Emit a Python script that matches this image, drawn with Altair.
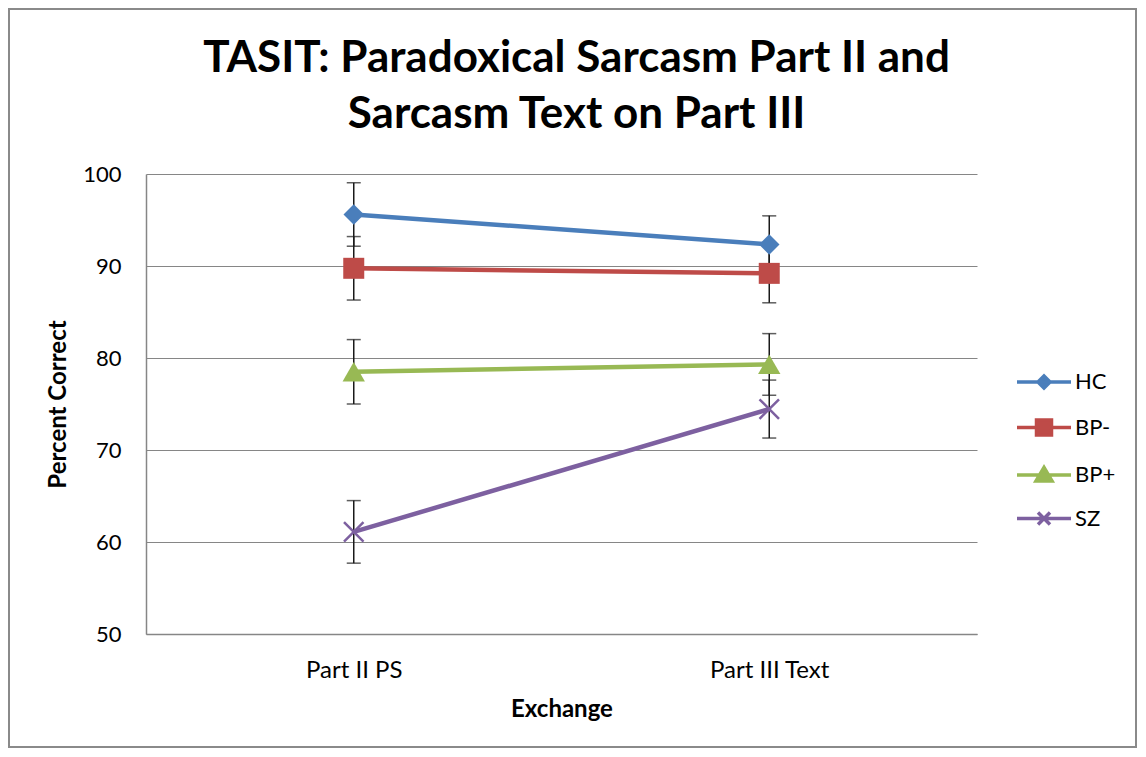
import altair as alt
import pandas as pd

groups = ["HC", "BP-", "BP+", "SZ"]
exchanges = ["Part II PS", "Part III Text"]
hc_mean = [95.6, 92.35]
hc_err = [3.45, 3.1]
bpm_mean = [89.75, 89.2]
bpm_err = [3.45, 3.2]
bpp_mean = [78.5, 79.3]
bpp_err = [3.5, 3.35]
sz_mean = [61.1, 74.45]
sz_err = [3.4, 3.15]
y_ticks = [50, 60, 70, 80, 90, 100]
colors = ["#4A7EBB", "#BE4B48", "#98B954", "#7D60A0"]
title_lines = ["TASIT: Paradoxical Sarcasm Part II and", "Sarcasm Text on Part III"]

means = [hc_mean, bpm_mean, bpp_mean, sz_mean]
errs = [hc_err, bpm_err, bpp_err, sz_err]
rows = []
for g, m, e in zip(groups, means, errs):
    for x, mv, ev in zip(exchanges, m, e):
        rows.append(dict(group=g, exchange=x, value=mv, lo=mv - ev, hi=mv + ev))
df = pd.DataFrame(rows)

FONT = "Lato"
W, H = 831, 460
PL, PT = 138, 166
PR = 1130 - PL - W
PB = 741 - PT - H

xscale = alt.Scale(type="point", padding=0.5, domain=exchanges)
yscale = alt.Scale(domain=[50, 100], nice=False, zero=False)

x_axis = alt.Axis(title="Exchange", labelAngle=0, labelPadding=24, ticks=False, grid=False,
                  domainColor="#868686", domainWidth=1.5, labelFont=FONT, labelFontSize=24,
                  labelColor="#000000", titleFont=FONT, titleFontSize=24, titleFontWeight="bold",
                  titleColor="#000000", titleY=82, titleBaseline="alphabetic")
y_axis = alt.Axis(title="Percent Correct", values=y_ticks, ticks=False, grid=True,
                  gridColor="#868686", gridWidth=1, domainColor="#868686", domainWidth=1.5,
                  labelPadding=25, labelFont=FONT, labelFontSize=22, labelColor="#000000",
                  titleFont=FONT, titleFontSize=24, titleFontWeight="bold", titleColor="#000000",
                  titleAngle=270, titleX=-88, titleY=H / 2, titleAlign="center",
                  titleBaseline="middle")


def X():
    return alt.X("exchange:N", scale=xscale, axis=x_axis)


def Y(field):
    return alt.Y(f"{field}:Q", scale=yscale, axis=y_axis)


base = alt.Chart(df)
one = pd.DataFrame({"a": [0]})

border = alt.Chart(one).mark_rect(
    fillOpacity=0, stroke="#8a8a8a", strokeWidth=2
).encode(x=alt.value(-PL + 1), x2=alt.value(W + PR - 2),
         y=alt.value(-PT + 1), y2=alt.value(H + PB - 2))

title1 = alt.Chart(one).mark_text(
    text=title_lines[0], font=FONT, fontSize=44, fontWeight="bold", color="#000000",
    align="center", baseline="alphabetic"
).encode(x=alt.value(W / 2 + 15), y=alt.value(72 - 174))
title2 = alt.Chart(one).mark_text(
    text=title_lines[1], font=FONT, fontSize=44, fontWeight="bold", color="#000000",
    align="center", baseline="alphabetic"
).encode(x=alt.value(W / 2 + 15), y=alt.value(128 - 174))

line_layers = []
for g, c in zip(groups, colors):
    line_layers.append(
        base.transform_filter(alt.datum.group == g).mark_line(strokeWidth=4.5, color=c).encode(
            x=X(), y=Y("value"),
        )
    )

err_rule = base.mark_rule(color="#1a1a1a", strokeWidth=1.5).encode(
    x=X(), y=Y("lo"), y2="hi:Q",
)
err_lo = base.mark_tick(color="#1a1a1a", thickness=1.5, size=14, orient="horizontal").encode(
    x=X(), y=Y("lo"),
)
err_hi = base.mark_tick(color="#1a1a1a", thickness=1.5, size=14, orient="horizontal").encode(
    x=X(), y=Y("hi"),
)

marker_styles = {
    "HC": dict(shape="diamond", size=420, filled=True),
    "BP-": dict(shape="square", size=441, filled=True),
    "BP+": dict(shape="triangle-up", size=500, filled=True),
    "SZ": dict(shape="M-1,-1L1,1M-1,1L1,-1", size=380, filled=False, strokeWidth=2.5),
}
point_layers = []
for g, c in zip(groups, colors):
    st = dict(marker_styles[g])
    if st["filled"]:
        st["fill"] = c
    else:
        st["stroke"] = c
    st["opacity"] = 1
    point_layers.append(
        base.transform_filter(alt.datum.group == g).mark_point(**st).encode(
            x=X(), y=Y("value"),
        )
    )

legend_paths = [
    "M-2.7,0L2.7,0M0,-0.6L0.6,0L0,0.6L-0.6,0Z",
    "M-2.7,0L2.7,0M-0.75,-0.75L0.75,-0.75L0.75,0.75L-0.75,0.75Z",
    "M-2.7,0L2.7,0M0,-0.75L0.8,0.6L-0.8,0.6Z",
    "M-2.7,0L2.7,0M-0.6,-0.6L0.6,0.6M-0.6,0.6L0.6,-0.6",
]
leg = alt.Legend(title=None, orient="none", legendX=886, legendY=196,
                 labelFont=FONT, labelFontSize=22, labelColor="#000000",
                 symbolStrokeWidth=3.5, labelOffset=19, rowPadding=17.5)
legend_layer = base.mark_point(
    filled=True, strokeWidth=3.5, opacity=1, clip=True
).encode(
    x=X(), y=Y("value"),
    fill=alt.Fill("group:N", scale=alt.Scale(domain=groups, range=colors), legend=leg),
    stroke=alt.Stroke("group:N", scale=alt.Scale(domain=groups, range=colors), legend=leg),
    shape=alt.Shape("group:N", scale=alt.Scale(domain=groups, range=legend_paths), legend=leg),
    size=alt.value(0),
)

chart = alt.layer(border, title1, title2, err_rule, err_lo, err_hi,
                  *line_layers, *point_layers, legend_layer).properties(
    width=W, height=H,
    padding={"left": PL, "top": PT, "right": PR, "bottom": PB},
    autosize=alt.AutoSizeParams(type="none"),
    background="white",
).configure_view(stroke=None).configure_legend(symbolSize=400)

chart.save("out.html", embed_options={"renderer": "svg", "actions": False})
